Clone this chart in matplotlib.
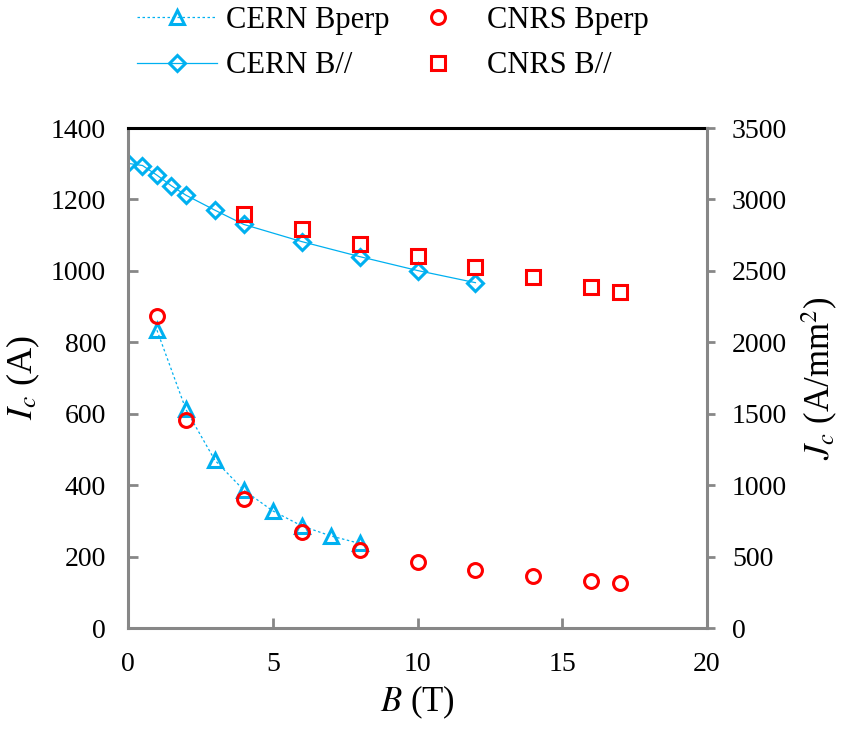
import numpy as np
import matplotlib
matplotlib.use("Agg")
import matplotlib.pyplot as plt

plt.rcParams['font.family'] = ['Liberation Serif', 'DejaVu Serif']
plt.rcParams['mathtext.fontset'] = 'stix'

# data
cern_perp_b = [1, 2, 3, 4, 5, 6, 7, 8]
cern_perp_ic = [834, 612, 470, 386, 328, 286, 258, 237]

cern_par_b = [0, 0.5, 1, 1.5, 2, 3, 4, 6, 8, 10, 12]
cern_par_ic = [1301, 1295, 1268, 1238, 1212, 1170, 1130, 1082, 1040, 1001, 967]

cnrs_perp_b = [1, 2, 4, 6, 8, 10, 12, 14, 16, 17]
cnrs_perp_ic = [874, 582, 360, 268, 218, 185, 162, 146, 132, 127]

cnrs_par_b = [4, 6, 8, 10, 12, 14, 16, 17]
cnrs_par_ic = [1158, 1117, 1075, 1042, 1011, 982, 955, 942]

cyan = '#00B0F0'
red = '#FF0000'
gray = '#878787'

fig = plt.figure(figsize=(8.46, 7.29), dpi=100)
ax = fig.add_axes([0.1513, 0.1385, 0.6844, 0.6859])

h1, = ax.plot(cern_perp_b, cern_perp_ic, linestyle=(0, (2, 2)), lw=0.9, color=cyan,
              marker='^', ms=10.5, mfc='none', mec=cyan, mew=2.2, label='CERN Bperp')
h2, = ax.plot(cern_par_b, cern_par_ic, linestyle='-', lw=0.9, color=cyan,
              marker='D', ms=8, mfc='none', mec=cyan, mew=2.2, label='CERN B//')
h3, = ax.plot(cnrs_perp_b, cnrs_perp_ic, linestyle='none', marker='o', ms=10,
              mfc='none', mec=red, mew=2.2, label='CNRS Bperp')
h4, = ax.plot(cnrs_par_b, cnrs_par_ic, linestyle='none', marker='s', ms=10.5,
              mfc='none', mec=red, mew=2.2, label='CNRS B//')

ax.set_xlim(0, 20)
ax.set_ylim(0, 1400)
ax.set_xticks(np.arange(0, 21, 5))
ax.set_yticks(np.arange(0, 1401, 200))
ax.tick_params(axis='both', direction='in', length=7, width=2, color=gray,
               labelsize=20)
ax.tick_params(axis='x', pad=17)
ax.tick_params(axis='y', pad=16, right=False)
for s in ['left', 'bottom']:
    ax.spines[s].set_color(gray)
    ax.spines[s].set_linewidth(2.2)
ax.spines['top'].set_color('black')
ax.spines['top'].set_linewidth(2.2)
ax.spines['right'].set_visible(False)

ax.set_xlabel(r'$B$ (T)', fontsize=25, labelpad=5)
ax.set_ylabel(r'$I_c$ (A)', fontsize=26)
ax.yaxis.set_label_coords(-0.148, 0.5)

ax2 = ax.twinx()
ax2.set_ylim(0, 3500)
ax2.set_yticks(np.arange(0, 3501, 500))
ax2.tick_params(axis='y', direction='out', length=6, width=2, color=gray,
                labelsize=20, pad=12)
for s in ['left', 'bottom', 'top']:
    ax2.spines[s].set_visible(False)
ax2.spines['right'].set_color(gray)
ax2.spines['right'].set_linewidth(2.2)
ax2.set_ylabel(r'$J_c$ (A/mm$^2$)', fontsize=25)
ax2.yaxis.set_label_coords(1.16, 0.5)

fig.legend(handles=[h1, h2, h3, h4], ncol=2, frameon=False, fontsize=22,
           loc='upper left', bbox_to_anchor=(0.13, 1.03), handlelength=2.6,
           columnspacing=0.3, labelspacing=0.55, handletextpad=0.3)

fig.savefig('out.png', dpi=100)
